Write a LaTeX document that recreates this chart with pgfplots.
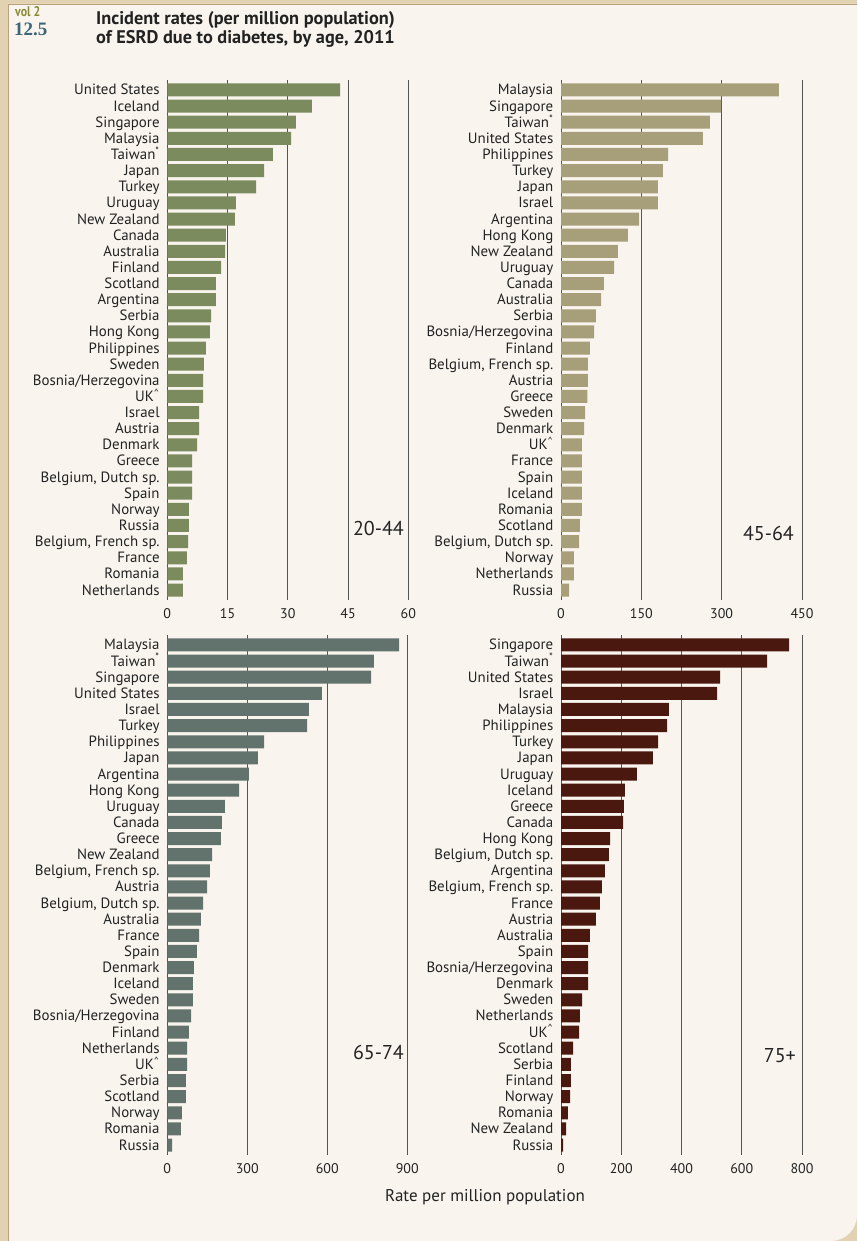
\documentclass[border=0pt]{standalone}
\usepackage{pgfplots}
\pgfplotsset{compat=1.18}
\usepackage{graphicx}
\usepackage{fontspec}
\setmainfont{PT Sans}
\newfontfamily\serifnum{Liberation Serif}
\definecolor{bgtan}{HTML}{E3D2B2}
\definecolor{paper}{HTML}{F9F5EE}
\definecolor{edge}{HTML}{B9A27C}
\definecolor{cA}{HTML}{7B8B5E}
\definecolor{cB}{HTML}{A69F79}
\definecolor{cC}{HTML}{61736C}
\definecolor{cD}{HTML}{4A180E}
\definecolor{gridc}{HTML}{555555}
\definecolor{labc}{HTML}{222222}
\definecolor{volc}{HTML}{8C8A3A}
\definecolor{numc}{HTML}{3C6577}
\pgfplotsset{panel/.style={
  scale only axis, height=519.4pt,
  xbar, bar width=13pt, y dir=reverse,
  ymin=-0.6, ymax=31.6, ytick={0,...,31},
  xmin=0,
  axis line style={draw=none}, major tick length=0pt,
  xmajorgrids, ymajorgrids=false, grid style={draw=gridc, line width=1pt},
  tick label style={font=\fontsize{14}{16}\selectfont, text=labc},
  yticklabel style={inner sep=0pt, xshift=-7.5pt, font=\fontsize{14.9}{16}\selectfont, text height=10.5pt, text depth=3.5pt, yshift=-1.5pt},
  xticklabel style={yshift=-5pt, text height=10pt, text depth=0pt},
  /pgf/number format/assume math mode=true,
  anchor=north west, clip=false,
}}
\begin{document}
\begin{tikzpicture}[x=1pt,y=1pt]
\useasboundingbox (0,0) rectangle (857,1241);
\fill[bgtan] (0,0) rectangle (857,1241);
\fill[paper] (8,0) -- (8,1237) -- (857,1237) -- (857,26) arc[start angle=0,end angle=-90,radius=26pt] -- cycle;
\draw[edge, line width=0.8pt] (8,0) -- (8,1237) -- (857,1237);
% title
\node[anchor=base west, inner sep=0pt, text=volc] at (15,1241-17) {\scalebox{0.85}[1]{\bfseries\fontsize{14}{15}\selectfont vol 2}};
\node[anchor=base west, inner sep=0pt, text=numc] at (14,1241-36) {\serifnum\bfseries\fontsize{19}{20}\selectfont 12.5};
\node[anchor=base west, inner sep=0pt, text=labc] at (96,1241-25) {\bfseries\fontsize{18.3}{19}\selectfont Incident rates (per million population)};
\node[anchor=base west, inner sep=0pt, text=labc] at (96,1241-44) {\bfseries\fontsize{18.3}{19}\selectfont of ESRD due to diabetes, by age, 2011};

% Panel 1: 20-44
\begin{axis}[panel, at={(167.3pt,1160.7pt)}, width=241pt, xmax=60, xtick={0,15,30,45,60},
  yticklabels={United States,Iceland,Singapore,Malaysia,Taiwan\textsuperscript{*},Japan,Turkey,Uruguay,New Zealand,Canada,Australia,Finland,Scotland,Argentina,Serbia,Hong Kong,Philippines,Sweden,Bosnia/Herzegovina,UK\textsuperscript{\textasciicircum},Israel,Austria,Denmark,Greece,{Belgium, Dutch sp.},Spain,Norway,Russia,{Belgium, French sp.},France,Romania,Netherlands}]
\addplot[fill=cA, draw=none] coordinates {(43.0,0) (36.0,1) (32.0,2) (30.8,3) (26.3,4) (24.1,5) (22.1,6) (17.1,7) (16.8,8) (14.6,9) (14.4,10) (13.4,11) (12.1,12) (12.1,13) (10.9,14) (10.6,15) (9.6,16) (9.1,17) (8.9,18) (8.9,19) (7.9,20) (7.9,21) (7.4,22) (6.2,23) (6.2,24) (6.2,25) (5.4,26) (5.4,27) (5.2,28) (4.9,29) (3.9,30) (3.9,31)};
\end{axis}

% Panel 2: 45-64
\begin{axis}[panel, at={(561pt,1160.7pt)}, width=241pt, xmax=450, xtick={0,150,300,450},
  yticklabels={Malaysia,Singapore,Taiwan\textsuperscript{*},United States,Philippines,Turkey,Japan,Israel,Argentina,Hong Kong,New Zealand,Uruguay,Canada,Australia,Serbia,Bosnia/Herzegovina,Finland,{Belgium, French sp.},Austria,Greece,Sweden,Denmark,UK\textsuperscript{\textasciicircum},France,Spain,Iceland,Romania,Scotland,{Belgium, Dutch sp.},Norway,Netherlands,Russia}]
\addplot[fill=cB, draw=none] coordinates {(407,0) (299,1) (278,2) (265,3) (200,4) (190,5) (181,6) (181,7) (146,8) (125,9) (106,10) (99,11) (80,12) (75,13) (65,14) (62,15) (54,16) (50,17) (50,18) (49,19) (45,20) (43,21) (39,22) (39,23) (39,24) (39,25) (39,26) (35,27) (34,28) (24,29) (24,30) (15,31)};
\end{axis}

% Panel 3: 65-74
\begin{axis}[panel, at={(167.3pt,605.7pt)}, width=240pt, xmax=900, xtick={0,300,600,900},
  yticklabels={Malaysia,Taiwan\textsuperscript{*},Singapore,United States,Israel,Turkey,Philippines,Japan,Argentina,Hong Kong,Uruguay,Canada,Greece,New Zealand,{Belgium, French sp.},Austria,{Belgium, Dutch sp.},Australia,France,Spain,Denmark,Iceland,Sweden,Bosnia/Herzegovina,Finland,Netherlands,UK\textsuperscript{\textasciicircum},Serbia,Scotland,Norway,Romania,Russia}]
\addplot[fill=cC, draw=none] coordinates {(869,0) (775,1) (764,2) (580,3) (531,4) (524,5) (363,6) (340,7) (306,8) (269,9) (216,10) (205,11) (201,12) (168,13) (160,14) (149,15) (134,16) (126,17) (119,18) (111,19) (100,20) (96,21) (96,22) (89,23) (81,24) (74,25) (74,26) (70,27) (70,28) (55,29) (51,30) (18,31)};
\end{axis}

% Panel 4: 75+
\begin{axis}[panel, at={(561pt,605.7pt)}, width=241pt, xmax=800, xtick={0,200,400,600,800},
  yticklabels={Singapore,Taiwan\textsuperscript{*},United States,Israel,Malaysia,Philippines,Turkey,Japan,Uruguay,Iceland,Greece,Canada,Hong Kong,{Belgium, Dutch sp.},Argentina,{Belgium, French sp.},France,Austria,Australia,Spain,Bosnia/Herzegovina,Denmark,Sweden,Netherlands,UK\textsuperscript{\textasciicircum},Scotland,Serbia,Finland,Norway,Romania,New Zealand,Russia}]
\addplot[fill=cD, draw=none] coordinates {(757,0) (684,1) (528,2) (518,3) (358,4) (352,5) (322,6) (305,7) (252,8) (212,9) (209,10) (206,11) (163,12) (159,13) (146,14) (136,15) (129,16) (116,17) (96,18) (90,19) (90,20) (90,21) (70,22) (63,23) (60,24) (40,25) (33,26) (33,27) (30,28) (23,29) (17,30) (7,31)};
\end{axis}

% age labels
\node[anchor=east, inner sep=0pt, text=labc, font=\fontsize{20}{22}\selectfont] at (404,1241-529) {20-44};
\node[anchor=east, inner sep=0pt, text=labc, font=\fontsize{20}{22}\selectfont] at (794,1241-534) {45-64};
\node[anchor=east, inner sep=0pt, text=labc, font=\fontsize{20}{22}\selectfont] at (404,1241-1053) {65-74};
\node[anchor=east, inner sep=0pt, text=labc, font=\fontsize{20}{22}\selectfont] at (796,1241-1056) {75+};
\node[inner sep=0pt, text=labc, font=\fontsize{17}{19}\selectfont] at (485,1241-1197) {Rate per million population};
\end{tikzpicture}
\end{document}
